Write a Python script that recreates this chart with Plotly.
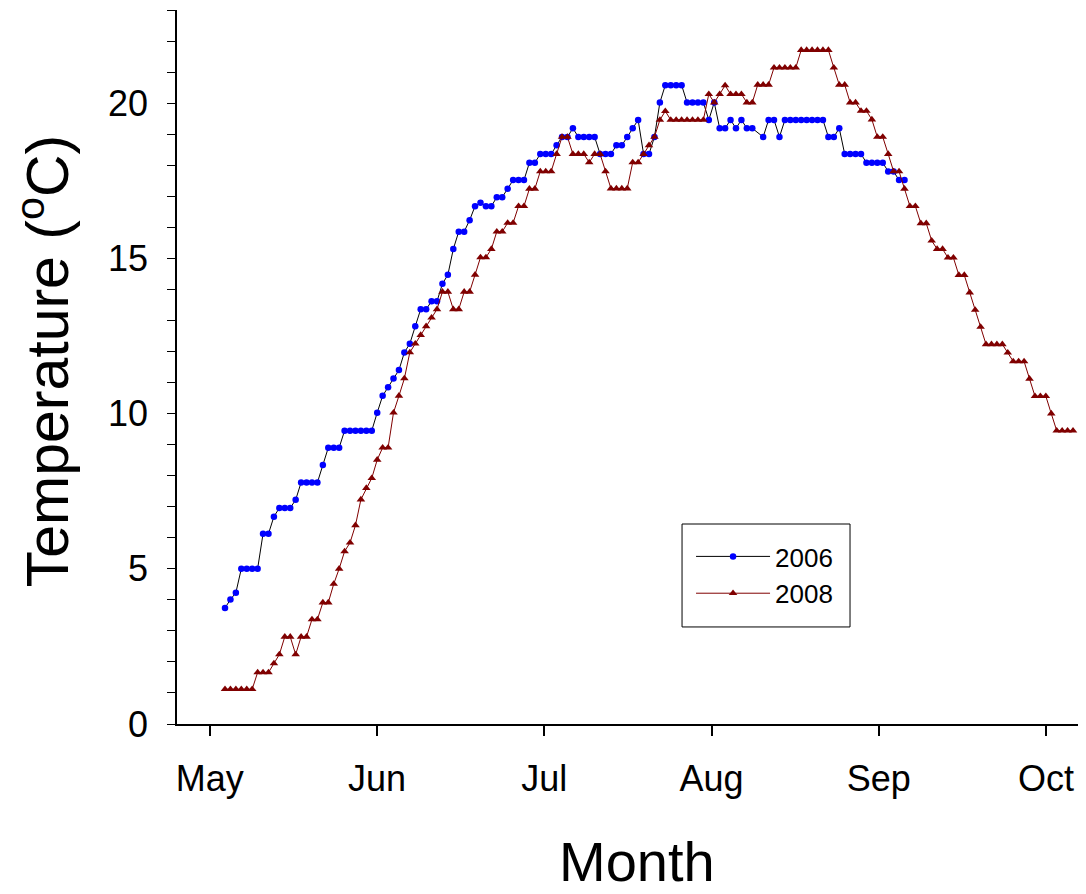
import plotly.graph_objects as go

# ---------------- data ----------------
months = ["May", "Jun", "Jul", "Aug", "Sep", "Oct"]

# daily temperatures (deg C); day index counted from 1 May
first_day_2006 = 3
temp_2006 = [
    3.74, 4.01, 4.23, 5.0, 5.0, 5.0, 5.0, 6.13, 6.13, 6.68,
    6.96, 6.96, 6.96, 7.22, 7.78, 7.78, 7.78, 7.78, 8.34, 8.9,
    8.9, 8.9, 9.45, 9.45, 9.45, 9.45, 9.45, 9.45, 10.03, 10.57,
    10.85, 11.13, 11.40, 11.97, 12.25, 12.81, 13.36, 13.36, 13.62, 13.62,
    14.18, 14.47, 15.30, 15.86, 15.86, 16.23, 16.68, 16.79, 16.68, 16.68,
    16.97, 16.97, 17.24, 17.52, 17.52, 17.52, 18.08, 18.08, 18.36, 18.36,
    18.36, 18.64, 18.91, 18.91, 19.19, 18.91, 18.91, 18.91, 18.91, 18.36,
    18.36, 18.36, 18.64, 18.64, 18.91, 19.19, 19.46, 18.36, 18.36, 18.91,
    20.02, 20.58, 20.58, 20.58, 20.58, 20.02, 20.02, 20.02, 20.02, 19.46,
    20.02, 19.19, 19.19, 19.46, 19.19, 19.46, 19.19, 19.19, None, 18.91,
    19.46, 19.46, 18.91, 19.46, 19.46, 19.46, 19.46, 19.46, 19.46, 19.46,
    19.46, 18.91, 18.91, 19.19, 18.36, 18.36, 18.36, 18.36, 18.08, 18.08,
    18.08, 18.08, 17.80, 17.80, 17.52, 17.52,
]

first_day_2008 = 3
temp_2008 = [
    1.12, 1.12, 1.12, 1.12, 1.12, 1.12, 1.66, 1.66, 1.66, 1.95,
    2.24, 2.81, 2.81, 2.24, 2.81, 2.81, 3.37, 3.37, 3.91, 3.91,
    4.51, 5.0, 5.56, 5.84, 6.4, 7.23, 7.6, 7.92, 8.51, 8.9,
    8.9, 10.03, 10.57, 11.13, 11.97, 12.25, 12.53, 12.81, 13.09, 13.36,
    13.92, 13.92, 13.36, 13.36, 13.92, 13.92, 14.47, 15.03, 15.03, 15.30,
    15.86, 15.86, 16.14, 16.14, 16.68, 16.68, 17.24, 17.24, 17.80, 17.80,
    17.80, 18.36, 18.91, 18.91, 18.36, 18.36, 18.36, 18.09, 18.36, 18.36,
    17.80, 17.25, 17.25, 17.25, 17.25, 18.09, 18.09, 18.36, 18.64, 18.91,
    19.46, 19.74, 19.46, 19.46, 19.46, 19.46, 19.46, 19.46, 19.46, 20.29,
    20.02, 20.29, 20.57, 20.29, 20.29, 20.29, 20.02, 20.02, 20.59, 20.59,
    20.59, 21.14, 21.14, 21.14, 21.14, 21.14, 21.71, 21.71, 21.71, 21.71,
    21.71, 21.71, 21.14, 20.59, 20.59, 20.02, 20.02, 19.75, 19.75, 19.47,
    18.91, 18.91, 18.36, 17.80, 17.80, 17.24, 16.68, 16.68, 16.13, 16.13,
    15.57, 15.30, 15.30, 15.02, 15.02, 14.46, 14.46, 13.90, 13.34, 12.79,
    12.23, 12.23, 12.23, 12.23, 11.96, 11.68, 11.68, 11.68, 11.12, 10.56,
    10.56, 10.56, 10.0, 9.45, 9.45, 9.45, 9.45,
]

days_2006 = [first_day_2006 + i for i in range(len(temp_2006))]
days_2008 = [first_day_2008 + i for i in range(len(temp_2008))]

# month tick positions (evenly spaced on the original axis)
month_step = 30.77
month_ticks = [0.19 + month_step * i for i in range(len(months))]

x_title = "Month"
y_title = "Temperature (<sup>o</sup>C)"

FONT = "Arial, Liberation Sans, Helvetica, sans-serif"

fig = go.Figure()
fig.add_trace(go.Scatter(
    x=days_2006, y=temp_2006, name="2006", mode="lines+markers",
    connectgaps=True,
    line=dict(color="black", width=1),
    marker=dict(symbol="circle", size=6.5, color="#0000FF", line=dict(width=0)),
))
fig.add_trace(go.Scatter(
    x=days_2008, y=temp_2008, name="2008", mode="lines+markers",
    line=dict(color="#800000", width=1),
    marker=dict(symbol="triangle-up", size=7.5, color="#800000", line=dict(width=0)),
))

# legend frame (drawn as a shape so its size matches the original box)
fig.add_shape(
    type="rect", xref="paper", yref="paper",
    x0=0.5556, x1=0.7404, y0=0.1359, y1=0.2801,
    line=dict(color="black", width=1), fillcolor="rgba(0,0,0,0)", layer="above",
)

# axis titles placed as annotations for exact positioning
fig.add_annotation(
    text=x_title, xref="paper", yref="paper", x=0.506, y=-0.1919,
    xanchor="center", yanchor="middle", showarrow=False,
    font=dict(size=56, family=FONT, color="black"),
)
fig.add_annotation(
    text=y_title, xref="paper", yref="paper", x=-0.1463, y=0.508,
    xanchor="center", yanchor="middle", showarrow=False, textangle=-90,
    font=dict(size=59, family=FONT, color="black"),
)

fig.update_layout(
    width=1078, height=886,
    margin=dict(l=169, r=0, t=2, b=170, autoexpand=False),
    paper_bgcolor="white", plot_bgcolor="white",
    font=dict(family=FONT, color="black"),
    showlegend=True,
    legend=dict(
        x=0.5655, y=0.2675, xanchor="left", yanchor="top",
        borderwidth=0, bgcolor="rgba(0,0,0,0)",
        font=dict(size=26, family=FONT), itemwidth=74,
        tracegroupgap=0,
    ),
)

fig.update_xaxes(
    range=[-5.83, 161.39],
    tickmode="array", tickvals=month_ticks, ticktext=months,
    showline=True, linecolor="black", linewidth=2,
    ticks="outside", ticklen=10, tickwidth=1.5, tickcolor="black",
    showgrid=False, zeroline=False,
    tickfont=dict(size=36, family=FONT),
    ticklabelstandoff=12,
    automargin=False,
)
fig.update_yaxes(
    range=[0, 23], tick0=0, dtick=5,
    showline=True, linecolor="black", linewidth=1.5,
    ticks="outside", ticklen=8, tickwidth=1.2, tickcolor="black",
    minor=dict(dtick=1, ticks="outside", ticklen=8, tickwidth=1.2, tickcolor="black"),
    showgrid=False, zeroline=False,
    tickfont=dict(size=36, family=FONT),
    ticklabelstandoff=12,
    automargin=False,
)

fig.write_html("out.html")
